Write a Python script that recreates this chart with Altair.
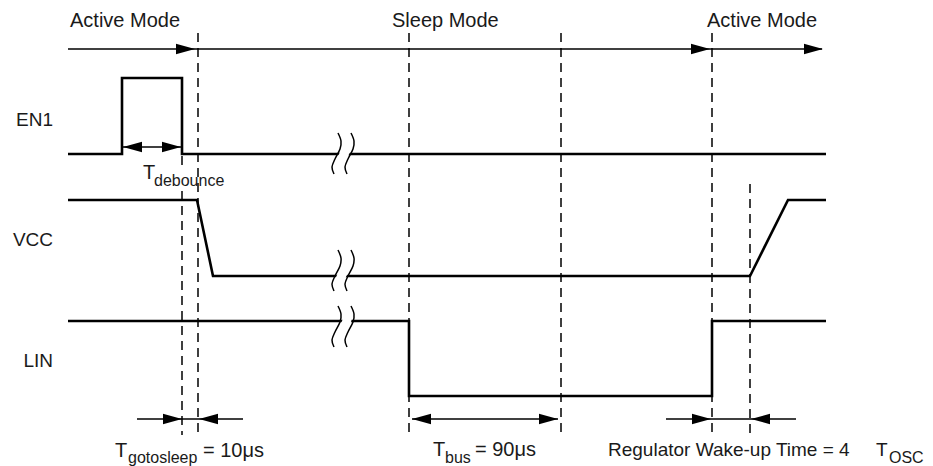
import altair as alt
import pandas as pd

# ---------------- data (diagram coordinates) ----------------
signals = ["EN1", "VCC", "LIN"]
en1_t = [68, 122, 122, 182, 182, 826]
en1_v = [154, 154, 78, 78, 154, 154]
vcc_t = [68, 197, 213, 750, 788, 826]
vcc_v = [200, 200, 276, 276, 200, 200]
lin_t = [68, 409, 409, 712, 712, 826]
lin_v = [321, 321, 396, 396, 321, 321]

timeline_t = [68, 822]
timeline_v = [49, 49]

marker_t = [182, 182, 198, 409, 561, 712, 750]
marker_top = [156, 191, 33, 33, 33, 33, 184]
marker_bottom = [166, 435, 435, 435, 435, 435, 435]

dim_start = [123, 137, 412, 666]
dim_end = [181, 243, 558, 796]
dim_level = [147, 419, 419, 419]

head_right_t = [195, 710, 823, 181, 182, 558, 711]
head_right_v = [49, 49, 49, 147, 419, 419, 419]
head_left_t = [123, 199, 412, 751]
head_left_v = [147, 419, 419, 419]

# break symbol: two S-curves crossing each waveform
break_curve_t = [338, 351]
break_top = [133, 250, 306]
curve_dx = [0, 3, 2, -3, -6, -4]
curve_dy = [0, 8, 16, 26, 34, 41]

mode_text = ["Active Mode", "Sleep Mode", "Active Mode"]
mode_t = [70, 392, 707]
mode_v = [26.5, 26.5, 26.5]

name_v = [125.5, 246, 367]
name_t = [53, 53, 53]

label_text = ["T", "T", "= 10μs", "T", "= 90μs"]
label_t = [143, 115, 203, 433, 475]
label_v = [179, 457, 457, 456, 456]

reg_text = ["Regulator Wake-up Time = 4", "T"]
reg_t = [608, 876]
reg_v = [456, 456]

sub_text = ["debounce", "gotosleep", "bus", "OSC"]
sub_t = [154, 128, 445, 889]
sub_v = [185.5, 463, 463, 463]

# ---------------- frames ----------------
wave_rows = []
for name, ts, vs in [("EN1", en1_t, en1_v), ("VCC", vcc_t, vcc_v), ("LIN", lin_t, lin_v)]:
    for i, (t, v) in enumerate(zip(ts, vs)):
        wave_rows.append({"sig": name, "o": i, "x": t, "y": v})
wave_df = pd.DataFrame(wave_rows)

tl_df = pd.DataFrame({"x": [timeline_t[0]], "x2": [timeline_t[1]], "y": [timeline_v[0]]})
mk_df = pd.DataFrame({"x": marker_t, "y": marker_top, "y2": marker_bottom})
dim_df = pd.DataFrame({"x": dim_start, "x2": dim_end, "y": dim_level})
hr_df = pd.DataFrame({"x": head_right_t, "y": head_right_v})
hl_df = pd.DataFrame({"x": head_left_t, "y": head_left_v})

brk_rows, mask_rows = [], []
for s, top in zip(signals, break_top):
    for k, cx in enumerate(break_curve_t):
        for i, (dx, dy) in enumerate(zip(curve_dx, curve_dy)):
            brk_rows.append({"id": f"{s}{k}", "o": i, "x": cx + dx, "y": top + dy})
    mid = (break_curve_t[0] + break_curve_t[1]) / 2
    for i, (dx, dy) in enumerate(zip(curve_dx, curve_dy)):
        mask_rows.append({"id": s, "o": i, "x": mid + dx, "y": top + dy})
brk_df = pd.DataFrame(brk_rows)
mask_df = pd.DataFrame(mask_rows)

mode_df = pd.DataFrame({"text": mode_text, "x": mode_t, "y": mode_v})
name_df = pd.DataFrame({"text": signals, "x": name_t, "y": name_v})
lab_df = pd.DataFrame({"text": label_text, "x": label_t, "y": label_v})
reg_df = pd.DataFrame({"text": reg_text, "x": reg_t, "y": reg_v})
sub_df = pd.DataFrame({"text": sub_text, "x": sub_t, "y": sub_v})

# ---------------- scales ----------------
W, H = 917, 458
xs = alt.Scale(domain=[8, 8 + W], nice=False, zero=False)
ys = alt.Scale(domain=[8, 8 + H], nice=False, zero=False, reverse=True)
X = alt.X("x:Q", scale=xs, axis=None)
Y = alt.Y("y:Q", scale=ys, axis=None)
FONT = "Liberation Sans"
INK = "#000000"
TXT = "#1a1a1a"

waves = alt.Chart(wave_df).mark_line(color=INK, strokeWidth=2.6, strokeJoin="miter").encode(
    x=X, y=Y, detail="sig:N", order="o:Q")

mask = alt.Chart(mask_df).mark_line(color="white", strokeWidth=9, interpolate="cardinal").encode(
    x=X, y=Y, detail="id:N", order="o:Q")

brk = alt.Chart(brk_df).mark_line(color=INK, strokeWidth=1.5, interpolate="cardinal").encode(
    x=X, y=Y, detail="id:N", order="o:Q")

timeline = alt.Chart(tl_df).mark_rule(color=INK, strokeWidth=1.6).encode(
    x=X, x2="x2:Q", y=Y)

markers = alt.Chart(mk_df).mark_rule(color=INK, strokeWidth=1.5, strokeDash=[9, 6]).encode(
    x=X, y=Y, y2="y2:Q")

dims = alt.Chart(dim_df).mark_rule(color=INK, strokeWidth=1.4).encode(
    x=X, x2="x2:Q", y=Y)

heads_r = alt.Chart(hr_df).mark_point(
    shape="M0,0L-2,-0.55L-2,0.55Z", size=361, filled=True, opacity=1, color=INK, strokeWidth=0
).encode(x=X, y=Y)
heads_l = alt.Chart(hl_df).mark_point(
    shape="M0,0L2,-0.55L2,0.55Z", size=361, filled=True, opacity=1, color=INK, strokeWidth=0
).encode(x=X, y=Y)

modes = alt.Chart(mode_df).mark_text(font=FONT, fontSize=20, align="left", baseline="alphabetic",
                                     color=TXT).encode(x=X, y=Y, text="text:N")
names = alt.Chart(name_df).mark_text(font=FONT, fontSize=19, align="right", baseline="alphabetic",
                                     color=TXT).encode(x=X, y=Y, text="text:N")
labels = alt.Chart(lab_df).mark_text(font=FONT, fontSize=20, align="left", baseline="alphabetic",
                                     color=TXT).encode(x=X, y=Y, text="text:N")
regs = alt.Chart(reg_df).mark_text(font=FONT, fontSize=19, align="left", baseline="alphabetic",
                                   color=TXT).encode(x=X, y=Y, text="text:N")
subs = alt.Chart(sub_df).mark_text(font=FONT, fontSize=16, align="left", baseline="alphabetic",
                                   color=TXT).encode(x=X, y=Y, text="text:N")

chart = alt.layer(
    markers, timeline, waves, mask, brk, dims, heads_r, heads_l,
    modes, names, labels, regs, subs
).properties(
    width=W, height=H, padding=0, autosize=alt.AutoSizeParams(type="none"), background="white"
).configure_view(stroke=None)

chart.save("out.html", embed_options={"renderer": "svg", "actions": False})
